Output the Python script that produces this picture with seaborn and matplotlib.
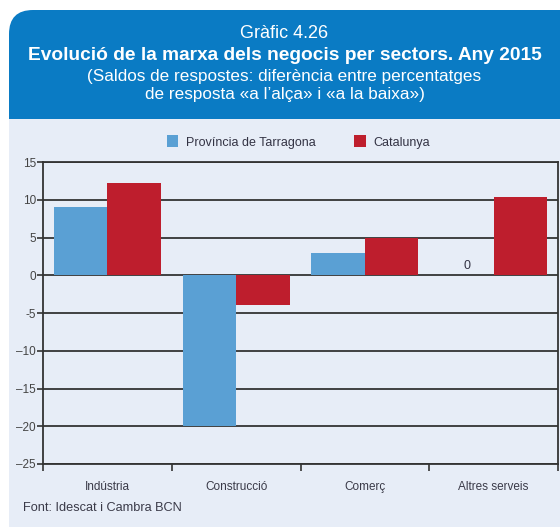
import matplotlib
matplotlib.use("Agg")
import matplotlib.pyplot as plt
from matplotlib import font_manager
from matplotlib.patches import FancyBboxPatch, Rectangle, Patch
import seaborn as sns
import pandas as pd

categories = ["Indústria", "Construcció", "Comerç", "Altres serveis"]
tarragona = [9.1, -20.0, 3.0, 0.0]
catalunya = [12.2, -4.0, 5.0, 10.3]
series_names = ["Província de Tarragona", "Catalunya"]
ytick_values = [-25, -20, -15, -10, -5, 0, 5, 10, 15]
ytick_labels = ["–25", "–20", "–15", "–10", "-5", "0", "5", "10", "15"]

df = pd.DataFrame({
    "Sector": categories * 2,
    "Serie": [series_names[0]] * 4 + [series_names[1]] * 4,
    "Valor": tarragona + catalunya,
})

sns.set_theme(style="white")
names = {f.name for f in font_manager.fontManager.ttflist}
narrow = "Liberation Sans Narrow" if "Liberation Sans Narrow" in names else "Liberation Sans"
plt.rcParams["font.family"] = [narrow, "DejaVu Sans"]

W, H = 560, 527
fig = plt.figure(figsize=(W / 100, H / 100), dpi=100)

header_col = "#0a7bc4"
panel_col = "#e7edf7"
hdr = FancyBboxPatch((9, H - 119 - 40), 600, 149, boxstyle="round,pad=0,rounding_size=24",
                     transform=None, facecolor=header_col, edgecolor="none", zorder=-10)
fig.patches.append(hdr)
panel = Rectangle((9, 0), W, H - 119, transform=None, facecolor=panel_col,
                  edgecolor="none", zorder=-9)
fig.patches.append(panel)

cx = (9 + W) / 2 / W
fig.text(cx, 1 - 33 / H, "Gràfic 4.26", ha="center", va="center",
         color="white", fontsize=13, family=["Liberation Sans", "DejaVu Sans"])
fig.text(cx, 1 - 55 / H, "Evolució de la marxa dels negocis per sectors. Any 2015",
         ha="center", va="center", color="white", fontsize=13.8, fontweight="bold",
         family=["Liberation Sans", "DejaVu Sans"])
fig.text(cx, 1 - 76 / H, "(Saldos de respostes: diferència entre percentatges",
         ha="center", va="center", color="white", fontsize=12.3, family=[narrow, "DejaVu Sans"])
fig.text(cx, 1 - 95 / H, "de resposta «a l’alça» i «a la baixa»)",
         ha="center", va="center", color="white", fontsize=12.3, family=[narrow, "DejaVu Sans"])
fig.text(23 / W, 1 - 508 / H, "Font: Idescat i Cambra BCN", ha="left", va="center",
         color="#3a3a48", fontsize=9.2)

ax = fig.add_axes([43 / W, 1 - 464 / H, (558 - 43) / W, (464 - 162) / H])
ax.set_facecolor("none")
palette = {series_names[0]: "#5aa0d4", series_names[1]: "#be1e2d"}
sns.barplot(data=df, x="Sector", y="Valor", hue="Serie", palette=palette, width=0.83,
            saturation=1, ax=ax, legend=False, zorder=3, edgecolor="none", linewidth=0)

ax.set_ylim(-25, 15)
ax.set_xlim(-0.5, 3.5)
ax.set_yticks(ytick_values)
ax.set_yticklabels(ytick_labels)
ax.yaxis.grid(True, color="#333333", linewidth=1.3, zorder=1)
ax.set_axisbelow(True)
ax.set_xlabel("")
ax.set_ylabel("")
for s in ["left", "bottom", "right", "top"]:
    ax.spines[s].set_color("#333333")
    ax.spines[s].set_linewidth(1.3)
ax.tick_params(axis="y", left=True, length=4, width=1.2, color="#333333",
               labelsize=8.5, labelcolor="#444444", pad=1)
ax.set_xticks(range(len(categories)))
ax.set_xticklabels(categories)
ax.tick_params(axis="x", bottom=False, labelsize=8.5, labelcolor="#3a3a48", pad=6)
ax.set_xticks([-0.5, 0.5, 1.5, 2.5, 3.5], minor=True)
ax.tick_params(axis="x", which="minor", bottom=True, length=5, width=1.2, color="#333333")

for p in ax.patches:
    if abs(p.get_height()) < 1e-9 and p.get_width() > 0:
        ax.text(p.get_x() + p.get_width() / 2, 1.2, "0", ha="center", va="center",
                fontsize=9, color="#333344")

handles = [Patch(facecolor=palette[n], edgecolor="none") for n in series_names]
fig.legend(handles, series_names, loc="center", bbox_to_anchor=(298.5 / W, 1 - 142 / H),
           ncol=2, frameon=False, fontsize=9, handlelength=0.95, handleheight=1.1,
           columnspacing=3.1, handletextpad=0.6, labelcolor="#333344")

fig.savefig("out.png", dpi=100)
